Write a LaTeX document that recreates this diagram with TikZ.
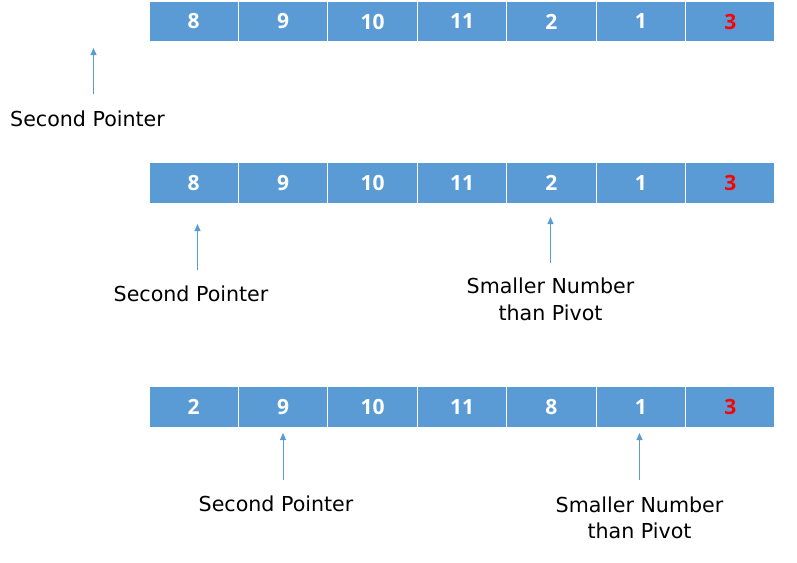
\documentclass[tikz,border=0pt]{standalone}
\usepackage{fontspec}
\setmainfont{Open Sans}
\newfontfamily\lblfont{DejaVu Sans}
\usetikzlibrary{arrows.meta}
\definecolor{cellblue}{HTML}{5B9BD5}
\definecolor{pivred}{HTML}{FF0000}
\tikzset{
  cell/.style={rectangle, fill=cellblue, draw=white, line width=1.2pt,
    minimum width=89.43pt, minimum height=41pt, inner sep=0pt,
    text=white, font=\fontsize{21}{21}\selectfont\bfseries},
  piv/.style={cell, text=pivred},
  lbl/.style={anchor=base, inner sep=0pt, font=\lblfont\fontsize{20.6}{26.5}\selectfont, align=center},
  ptr/.style={draw=cellblue, line width=0.9pt, -{Triangle[width=6pt,length=7pt]}}
}
\begin{document}
\begin{tikzpicture}[x=1pt,y=-1pt]
\useasboundingbox (0,0) rectangle (797,562);
% row 1
\foreach \v [count=\i] in {8,9,10,11,2,1}{
  \node[cell] (a\i) at ({149+(\i-0.5)*89.43},21.5) {\v};
}
\node[piv] (a7) at ({149+6.5*89.43},21.5) {3};
% row 2
\foreach \v [count=\i] in {8,9,10,11,2,1}{
  \node[cell] (b\i) at ({149+(\i-0.5)*89.43},182.7) {\v};
}
\node[piv] (b7) at ({149+6.5*89.43},182.7) {3};
% row 3
\foreach \v [count=\i] in {2,9,10,11,8,1}{
  \node[cell] (c\i) at ({149+(\i-0.5)*89.43},407) {\v};
}
\node[piv] (c7) at ({149+6.5*89.43},407) {3};

% labels
\node[lbl] (l1) at (87.5,126) {Second Pointer};
\node[lbl] (l2) at (191,301.7) {Second Pointer};
\node[lbl] (l3) at (550.5,320) {Smaller Number\\than Pivot};
\node[lbl] (l4) at (276,511.7) {Second Pointer};
\node[lbl] (l5) at (639.5,538.5) {Smaller Number\\than Pivot};

% arrows
\coordinate (t1) at (93.5,94);  \coordinate (h1) at (93.5,48);
\coordinate (t2) at (197.5,270); \coordinate (h2) at (197.5,224);
\coordinate (t3) at (550.5,263); \coordinate (h3) at (550.5,217);
\coordinate (t4) at (283,480);  \coordinate (h4) at (283,433);
\coordinate (t5) at (639.5,480); \coordinate (h5) at (639.5,433);
\foreach \k in {1,...,5}{ \draw[ptr] (t\k) -- (h\k); }
\end{tikzpicture}
\end{document}
